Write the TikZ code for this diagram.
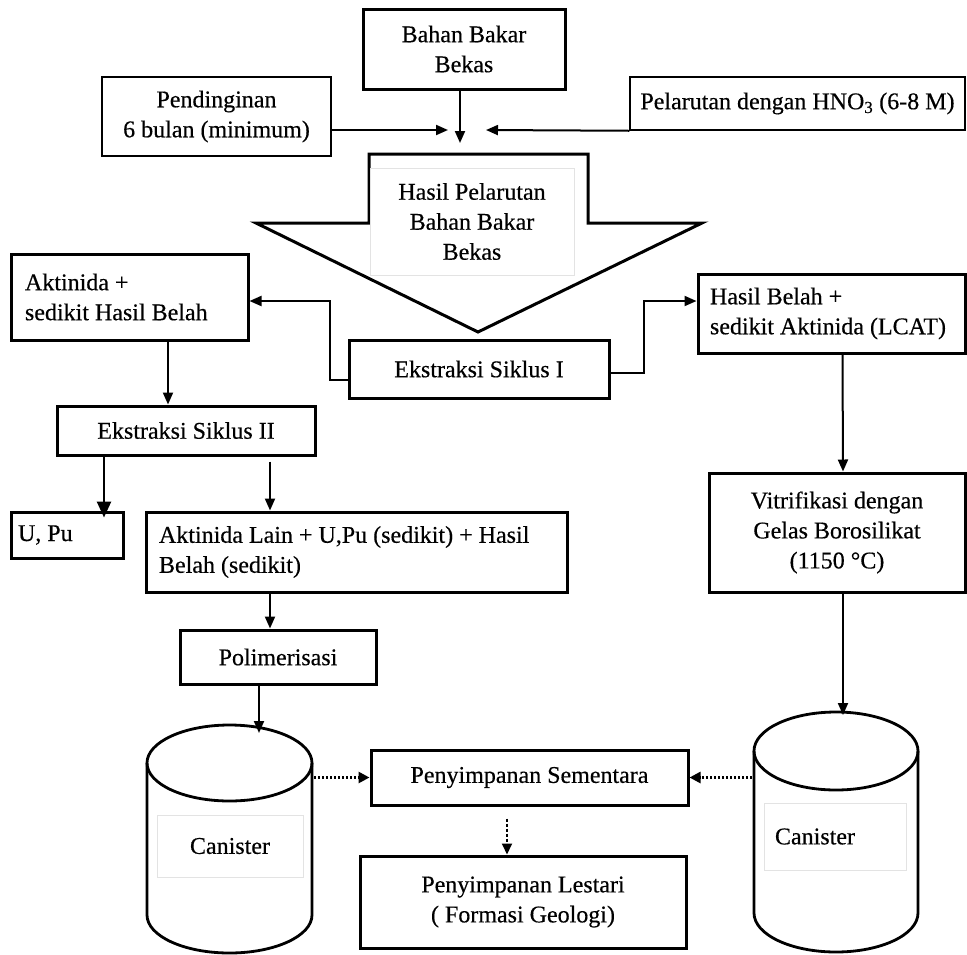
\documentclass[tikz,border=0pt]{standalone}
\usepackage{fontspec}
\setmainfont{Liberation Serif}[FakeBold=0.4]
\usetikzlibrary{arrows.meta}
\newcommand\dfont{\fontsize{24}{30}\selectfont}
\tikzset{
  tbox/.style={draw, line width=3pt, inner sep=0pt, align=center, font=\dfont},
  nbox/.style={draw, line width=1.5pt, inner sep=0pt, align=center, font=\dfont},
  ghost/.style={draw=gray!22, line width=0.8pt, fill=white, inner sep=0pt, align=center, font=\dfont},
  arr/.style={line width=2pt, -{Triangle[length=12pt,width=10pt]}},
  bigarr/.style={line width=2.6pt, -{Triangle[length=16pt,width=14pt]}},
  dotarr/.style={line width=2.6pt, dash pattern=on 2pt off 2pt, -{Triangle[length=11pt,width=11pt]}},
  dasharr/.style={line width=1.8pt, dash pattern=on 3pt off 2pt, -{Triangle[length=11pt,width=10pt]}},
  cyl/.style={line width=2.8pt},
}
\begin{document}
\begin{tikzpicture}[x=1pt,y=-1pt]
\useasboundingbox (0,0) rectangle (967,954);

% top boxes
\node[tbox, minimum width=202pt, minimum height=80pt] (bahan) at (464,49) {Bahan Bakar\\Bekas};
\node[nbox, minimum width=229pt, minimum height=79pt] (pend) at (216.5,116.5) {Pendinginan\\6 bulan (minimum)};
\node[nbox, minimum width=335pt, minimum height=53pt] (pel) at (797.5,103.5) {Pelarutan dengan HNO\textsubscript{3} (6-8 M)};

\coordinate (tipA) at (460,143);
\coordinate (tipL) at (448,130);
\coordinate (tipR) at (486,130);
\draw[arr] ([xshift=-4pt]bahan.south) -- (tipA);
\draw[arr] ([yshift=-13.5pt]pend.east) -- (tipL);
\draw[arr] (pel.south west) -- (tipR);

% big arrow shape
\draw[line width=3pt, line join=miter] (369,154) -- (588,154) -- (588,223) -- (702,223) -- (478,332) -- (256,223) -- (369,223) -- cycle;
\node[ghost, minimum width=204pt, minimum height=107pt] (hasil) at (472,221.5) {Hasil Pelarutan\\Bahan Bakar\\Bekas};

% second row
\node[tbox, minimum width=237pt, minimum height=86pt, text width=209pt, inner xsep=14pt, align=flush left] (akt) at (129.5,297) {Aktinida +\\sedikit Hasil Belah};
\node[tbox, minimum width=267pt, minimum height=79pt, text width=243pt, inner xsep=12pt, align=flush left] (hb) at (831.5,313.5) {Hasil Belah +\\sedikit Aktinida (LCAT)};
\node[tbox, minimum width=260pt, minimum height=58pt] (ek1) at (479,369) {Ekstraksi Siklus I};

\draw[arr] ([yshift=-11pt]ek1.west) -- ++(-18,0) |- ([yshift=-4pt]akt.east);
\draw[arr] ([yshift=-4pt]ek1.east) -- ++(33,0) |- ([yshift=12.5pt]hb.west);

% left branch
\node[tbox, minimum width=258pt, minimum height=49pt] (ek2) at (186,430.5) {Ekstraksi Siklus II};
\draw[arr] ([xshift=38.5pt]akt.south) -- ([xshift=-18pt]ek2.north);

\node[tbox, minimum width=112pt, minimum height=46pt, text width=98pt, inner xsep=7pt, align=flush left] (upu) at (67,535) {U, Pu};
\node[tbox, minimum width=421pt, minimum height=80pt, text width=395pt, inner xsep=13pt, align=flush left] (al) at (356.5,552) {Aktinida Lain + U,Pu (sedikit) + Hasil\\Belah (sedikit)};
\draw[bigarr] ([xshift=-82pt]ek2.south) -- ([xshift=37pt,yshift=-7pt]upu.north);
\draw[arr] ([xshift=84pt,yshift=-5pt]ek2.south) -- ([xshift=-86.5pt]al.north);

\node[tbox, minimum width=196pt, minimum height=54pt] (pol) at (278,657) {Polimerisasi};
\draw[arr] ([xshift=-86.5pt]al.south) -- ([xshift=-8pt]pol.north);

% right branch
\node[tbox, minimum width=256pt, minimum height=119pt] (vit) at (837,532.5) {Vitrifikasi dengan\\Gelas Borosilikat\\(1150 °C)};
\draw[arr] ([xshift=11pt]hb.south) -- ([xshift=6pt]vit.north);

% canisters
\draw[cyl] (229.5,763) ellipse [x radius=82.5pt, y radius=38pt];
\draw[cyl] (147,763) -- (147,915) arc[start angle=180, end angle=360, x radius=82.5pt, y radius=38pt] -- (312,763);
\node[ghost, minimum width=146pt, minimum height=62pt] (canL) at (230,846) {Canister};

\draw[cyl] (836,751) ellipse [x radius=82pt, y radius=39pt];
\draw[cyl] (754,751) -- (754,913) arc[start angle=180, end angle=360, x radius=82pt, y radius=39pt] -- (918,751);
\node[ghost, minimum width=142pt, minimum height=67pt, text width=120pt, inner xsep=11pt, align=flush left] (canR) at (835,836.5) {Canister};

\coordinate (topL) at (259,733);
\coordinate (topR) at (843,715);
\draw[arr] ([xshift=-19pt]pol.south) -- (topL);
\draw[arr] ([xshift=6pt]vit.south) -- (topR);

% storage
\node[tbox, minimum width=317pt, minimum height=55pt] (ps) at (529.5,777.5) {Penyimpanan Sementara};
\node[tbox, minimum width=326pt, minimum height=92pt] (pl) at (523,902) {Penyimpanan Lestari\\( Formasi Geologi)};

\coordinate (canLe) at (314,777.5);
\coordinate (canRw) at (752,777.5);
\draw[dotarr] (canLe) -- (ps.west);
\draw[dotarr] (canRw) -- (ps.east);
\draw[dasharr] ([xshift=-22.5pt,yshift=-12pt]ps.south) -- ([xshift=-16pt]pl.north);
\end{tikzpicture}
\end{document}
